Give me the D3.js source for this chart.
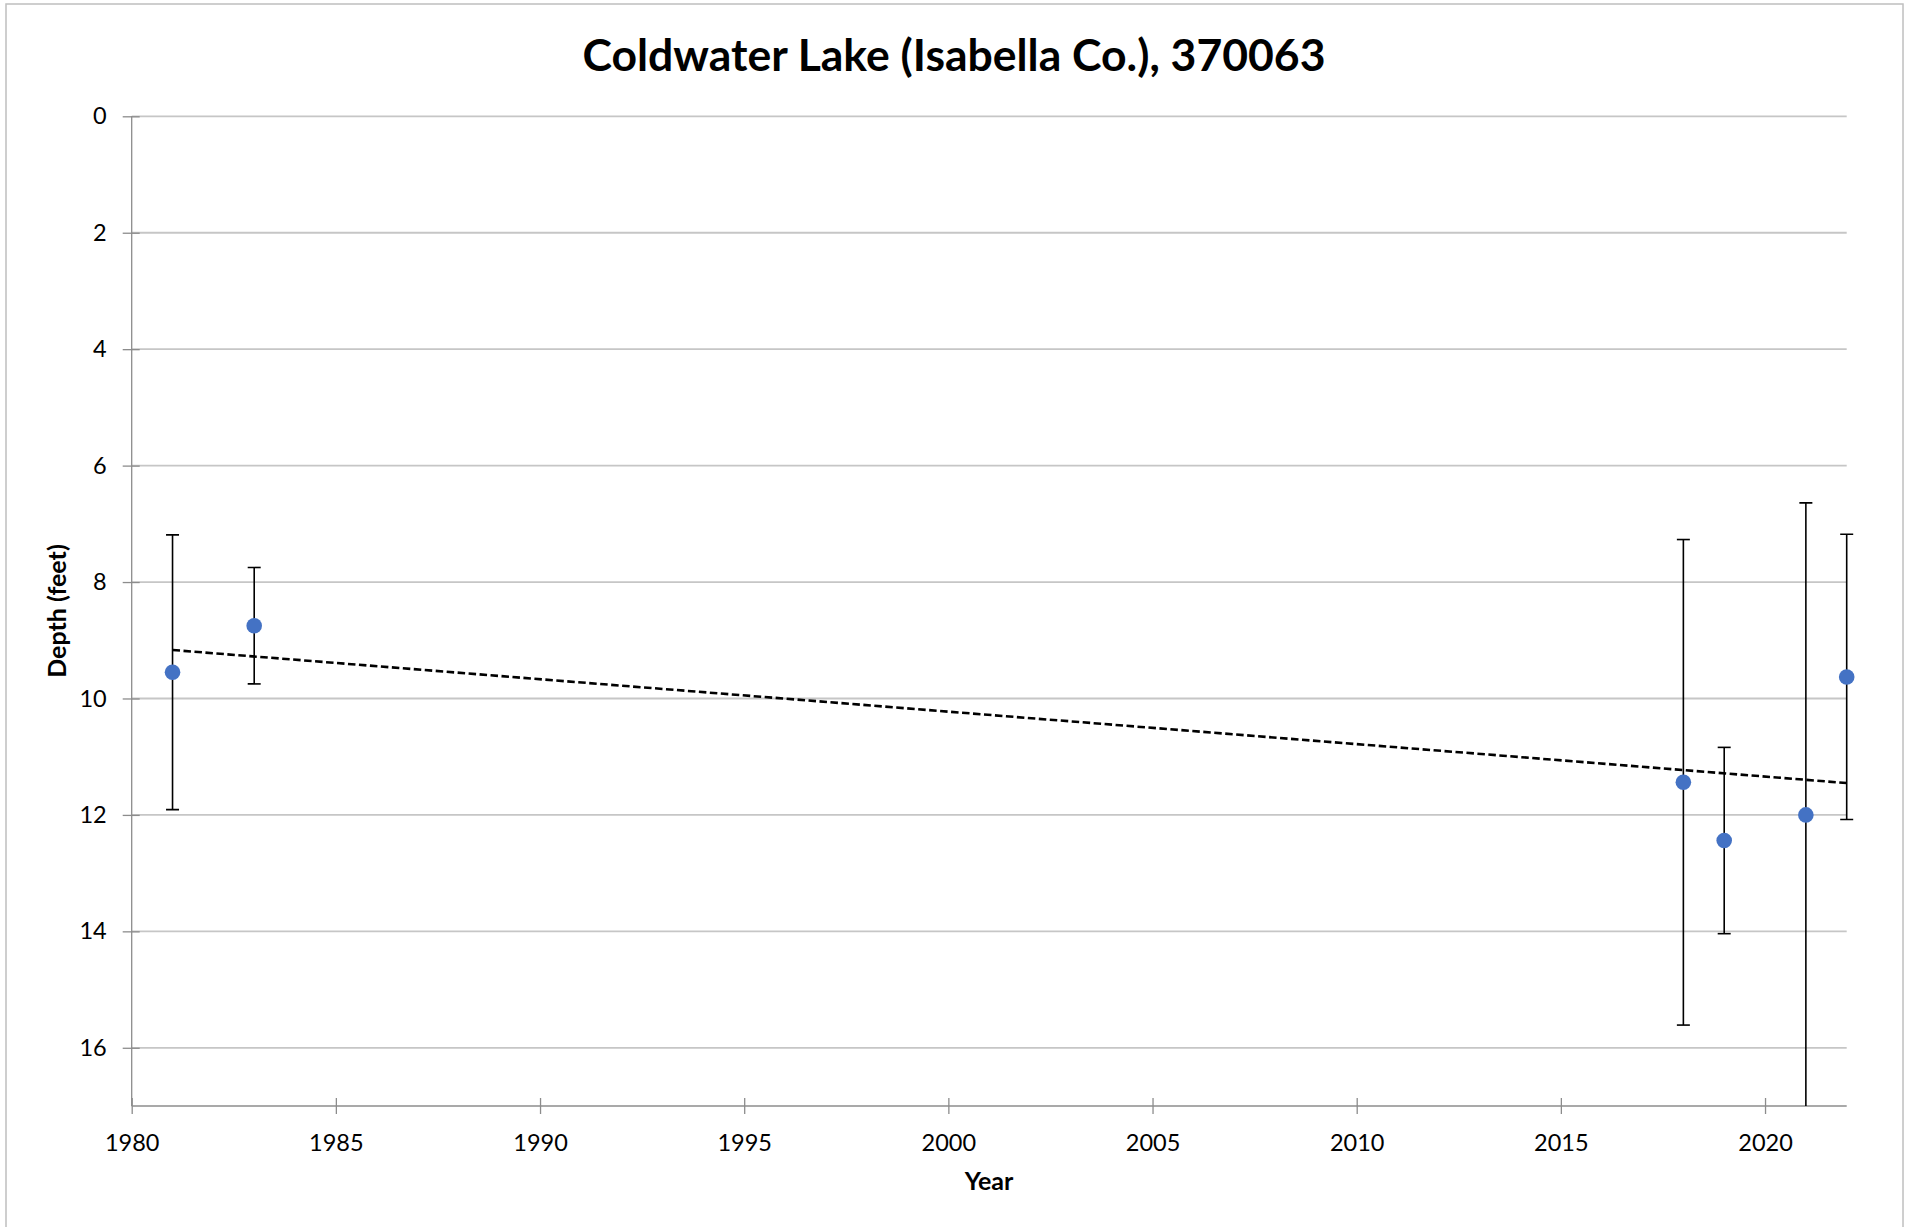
<html>

<head>
    <script src="https://d3js.org/d3.v7.min.js"></script>
    <style>
        body { margin: 0; background: white; }
        text { font-family: Lato, "Open Sans", sans-serif; fill: #000; }
    </style>
</head>

<body>
    <svg id="svg" width="1917" height="1227"></svg>
    <script>
        // values
        const years = [1981, 1983, 2018, 2019, 2021, 2022];
        const depths = [9.55, 8.75, 11.44, 12.44, 12.0, 9.63];
        const errors = [2.36, 1.0, 4.17, 1.6, 5.36, 2.45];
        const xTicks = [1980, 1985, 1990, 1995, 2000, 2005, 2010, 2015, 2020];
        const yTicks = [0, 2, 4, 6, 8, 10, 12, 14, 16];

        const svg = d3.select('#svg');
        const margin = { top: 116.3, right: 70.3, bottom: 121, left: 131.7 };
        const width = +svg.attr("width");
        const height = +svg.attr("height");

        svg.append("rect")
            .attr("x", 6).attr("y", 4)
            .attr("width", 1897).attr("height", 1230)
            .style("fill", "white")
            .style("stroke", "#bfbfbf")
            .style("stroke-width", 1.5);

        const xScale = d3.scaleLinear().domain([1980, 2022]).range([margin.left, width - margin.right]);
        const yScale = d3.scaleLinear().domain([0, 17]).range([margin.top, height - margin.bottom]);

        // gridlines
        svg.append("g").selectAll("line").data(yTicks)
            .join("line")
            .attr("x1", xScale(1980)).attr("x2", xScale(2022))
            .attr("y1", d => yScale(d)).attr("y2", d => yScale(d))
            .style("stroke", "#c6c6c6")
            .style("stroke-width", 1.8);

        // axes
        const yAxis = svg.append("g")
            .attr("transform", `translate(${xScale(1980)},0)`)
            .call(d3.axisLeft(yScale).tickValues(yTicks).tickSize(8).tickPadding(17));
        yAxis.selectAll(".tick line").attr("x2", -9).attr("x1", 8);
        const xAxis = svg.append("g")
            .attr("transform", `translate(0,${yScale(17)})`)
            .call(d3.axisBottom(xScale).tickValues(xTicks).tickFormat(d3.format("d")).tickSize(8).tickPadding(20));
        xAxis.selectAll(".tick line").attr("y1", -8).attr("y2", 8);
        [yAxis, xAxis].forEach(a => {
            a.select(".domain").style("stroke", "#8c8c8c").style("stroke-width", 1.3);
            a.selectAll(".tick line").style("stroke", "#8c8c8c").style("stroke-width", 1.3);
            a.selectAll("text").style("font-size", "23.5px").style("font-family", "Lato, 'Open Sans', sans-serif").style("fill", "#000");
        });
        // shift domain endpoints (no outer ticks)
        yAxis.select(".domain").attr("d", `M0,${yScale(0)}V${yScale(17)}`);
        xAxis.select(".domain").attr("d", `M${xScale(1980)},0H${xScale(2022)}`);

        // clip for error bars
        svg.append("clipPath").attr("id", "plotClip")
            .append("rect")
            .attr("x", xScale(1980) - 20).attr("y", yScale(0) - 20)
            .attr("width", xScale(2022) - xScale(1980) + 40)
            .attr("height", yScale(17) - yScale(0) + 20);

        const points = years.map((y, i) => ({ year: y, depth: depths[i], err: errors[i] }));

        const bars = svg.append("g").attr("clip-path", "url(#plotClip)");
        bars.selectAll("line.stem").data(points)
            .join("line")
            .attr("class", "stem")
            .attr("x1", d => xScale(d.year)).attr("x2", d => xScale(d.year))
            .attr("y1", d => yScale(d.depth - d.err)).attr("y2", d => yScale(d.depth + d.err))
            .style("stroke", "#000").style("stroke-width", 1.6);
        const caps = points.flatMap(d => [d.depth - d.err, d.depth + d.err].map(v => ({ year: d.year, v: v })));
        bars.selectAll("line.cap").data(caps.filter(c => c.v <= 17))
            .join("line")
            .attr("class", "cap")
            .attr("x1", d => xScale(d.year) - 6.5).attr("x2", d => xScale(d.year) + 6.5)
            .attr("y1", d => yScale(d.v)).attr("y2", d => yScale(d.v))
            .style("stroke", "#000").style("stroke-width", 1.6);

        // linear trendline (least squares)
        const mx = d3.mean(years), my = d3.mean(depths);
        const slope = d3.sum(years, (x, i) => (x - mx) * (depths[i] - my)) / d3.sum(years, x => (x - mx) ** 2);
        const fit = x => my + slope * (x - mx);
        const xEnds = d3.extent(years);
        svg.append("line")
            .attr("x1", xScale(xEnds[0])).attr("y1", yScale(fit(xEnds[0])))
            .attr("x2", xScale(xEnds[1])).attr("y2", yScale(fit(xEnds[1])))
            .style("stroke", "#000")
            .style("stroke-width", 2.6)
            .style("stroke-dasharray", "7.5,3.5");

        svg.append("g").selectAll("circle").data(points)
            .join("circle")
            .attr("cx", d => xScale(d.year))
            .attr("cy", d => yScale(d.depth))
            .attr("r", 7.8)
            .style("fill", "#4472c4");

        // titles
        svg.append("text")
            .attr("x", 954).attr("y", 71)
            .style("text-anchor", "middle")
            .style("font-size", "44.5px")
            .style("font-weight", "bold")
            .text("Coldwater Lake (Isabella Co.), 370063");

        svg.append("text")
            .attr("x", 989).attr("y", 1190)
            .style("text-anchor", "middle")
            .style("font-size", "25px")
            .style("font-weight", "bold")
            .text("Year");

        svg.append("text")
            .attr("transform", "translate(66,611) rotate(-90)")
            .style("text-anchor", "middle")
            .style("font-size", "25px")
            .style("font-weight", "bold")
            .text("Depth (feet)");
    </script>
</body>

</html>
